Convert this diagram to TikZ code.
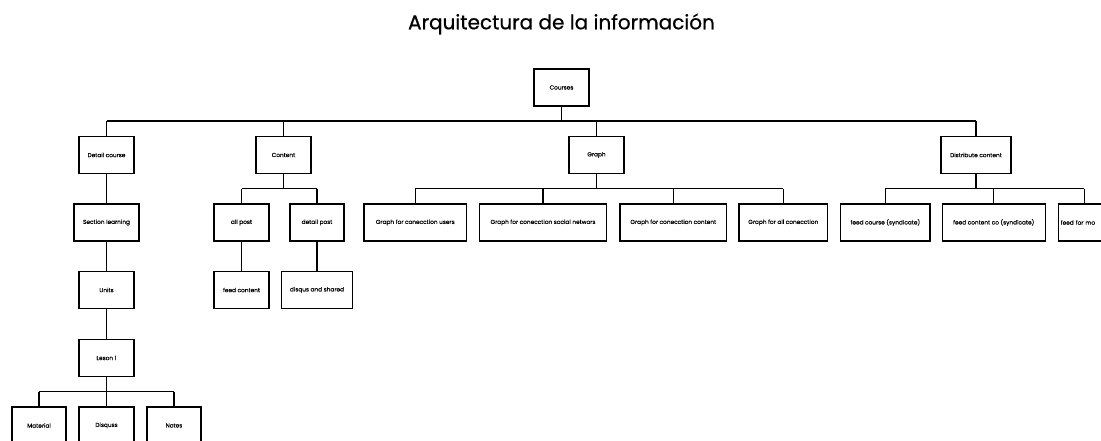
\documentclass[tikz,border=0pt]{standalone}
\usepackage{fontspec}
\setmainfont{Poppins}
\newfontfamily\titlefont[FakeBold=0.6]{Poppins}
\newfontfamily\boxfont[FakeBold=0.3]{Poppins}
\begin{document}
\begin{tikzpicture}[x=1pt,y=-1pt,
  box/.style={draw=black, line width=1.1pt, fill=white, inner sep=0pt, minimum height=37pt, font=\boxfont\fontsize{5.8}{6.5}\selectfont},
  link/.style={draw=black, line width=1.1pt}]
\useasboundingbox (0,0) rectangle (1101,441);
\clip (0,0) rectangle (1101,441);
\node[font=\titlefont\fontsize{20}{22}\selectfont] (title) at (561.5,24) {Arquitectura de la información};
% level 0
\node[box, minimum width=55pt] (courses) at (561.5,87.5) {Courses};
% level 1
\node[box, minimum width=55pt] (detail) at (106.5,155) {Detail course};
\node[box, minimum width=55pt] (content) at (283.5,155) {Content};
\node[box, minimum width=55pt] (graph) at (596.5,155) {Graph};
\node[box, minimum width=70pt] (distrib) at (976,155) {Distribute content};
% level 2
\node[box, minimum width=65pt] (section) at (106.5,222.5) {Section learning};
\node[box, minimum width=55pt] (allpost) at (241.5,222.5) {all post};
\node[box, minimum width=54pt] (detailpost) at (317,222.5) {detail post};
\node[box, minimum width=102.7pt] (gusers) at (415.3,222.5) {Graph for conecction users};
\node[box, minimum width=127.7pt] (gsocial) at (543,222.5) {Graph for conecction social networs};
\node[box, minimum width=106.7pt] (gcontent) at (673.3,222.5) {Graph for conecction content};
\node[box, minimum width=88.7pt] (gall) at (783.3,222.5) {Graph for all conecction};
\node[box, minimum width=89.3pt] (fcourse) at (885.3,222.5) {feed course (syndicate)};
\node[box, minimum width=102.7pt] (fcontent) at (993.7,222.5) {feed content co (syndicate)};
\node[box, minimum width=52pt, text width=48pt, align=left] (fmo) at (1084.7,222.5) {feed for mo};
% level 3
\node[box, minimum width=55pt] (units) at (106.5,290) {Units};
\node[box, minimum width=55pt] (feedcontent) at (241.5,290) {feed content};
\node[box, minimum width=71pt] (disqus) at (317,290) {disqus and shared};
% level 4
\node[box, minimum width=55pt] (leson) at (106.5,358) {Leson 1};
% level 5
\node[box, minimum width=54pt] (material) at (39,425.5) {Material};
\node[box, minimum width=55pt] (disquss) at (106.5,425.5) {Disquss};
\node[box, minimum width=54pt] (notes) at (174,425.5) {Notes};
% bus coordinates
\coordinate (b0) at (0,121);
\coordinate (b1) at (0,188.7);
\coordinate (b2) at (0,391.7);
% courses bus
\draw[link] (courses.south) -- (courses.south |- b0);
\draw[link] (detail.north |- b0) -- (distrib.north |- b0);
\foreach \n in {detail,content,graph,distrib} \draw[link] (\n.north) -- (\n.north |- b0);
% content bus
\draw[link] (content.south) -- (content.south |- b1);
\draw[link] (allpost.north |- b1) -- (detailpost.north |- b1);
\foreach \n in {allpost,detailpost} \draw[link] (\n.north) -- (\n.north |- b1);
% graph bus
\draw[link] (graph.south) -- (graph.south |- b1);
\draw[link] (gusers.north |- b1) -- (gall.north |- b1);
\foreach \n in {gusers,gsocial,gcontent,gall} \draw[link] (\n.north) -- (\n.north |- b1);
% distribute bus
\draw[link] (distrib.south) -- (distrib.south |- b1);
\draw[link] (fcourse.north |- b1) -- (1084.3,188.7) coordinate (fmotop);
\draw[link] (fcourse.north) -- (fcourse.north |- b1);
\draw[link] (fcontent.north) -- (fcontent.north |- b1);
\draw[link] (fmo.north -| fmotop) -- (fmotop);
% chains
\draw[link] (detail.south) -- (section.north);
\draw[link] (section.south) -- (units.north);
\draw[link] (units.south) -- (leson.north);
\draw[link] (allpost.south) -- (feedcontent.north);
\draw[link] (detailpost.south) -- (disqus.north);
% leson bus
\draw[link] (leson.south) -- (leson.south |- b2);
\draw[link] (material.north |- b2) -- (notes.north |- b2);
\foreach \n in {material,disquss,notes} \draw[link] (\n.north) -- (\n.north |- b2);
\end{tikzpicture}
\end{document}
